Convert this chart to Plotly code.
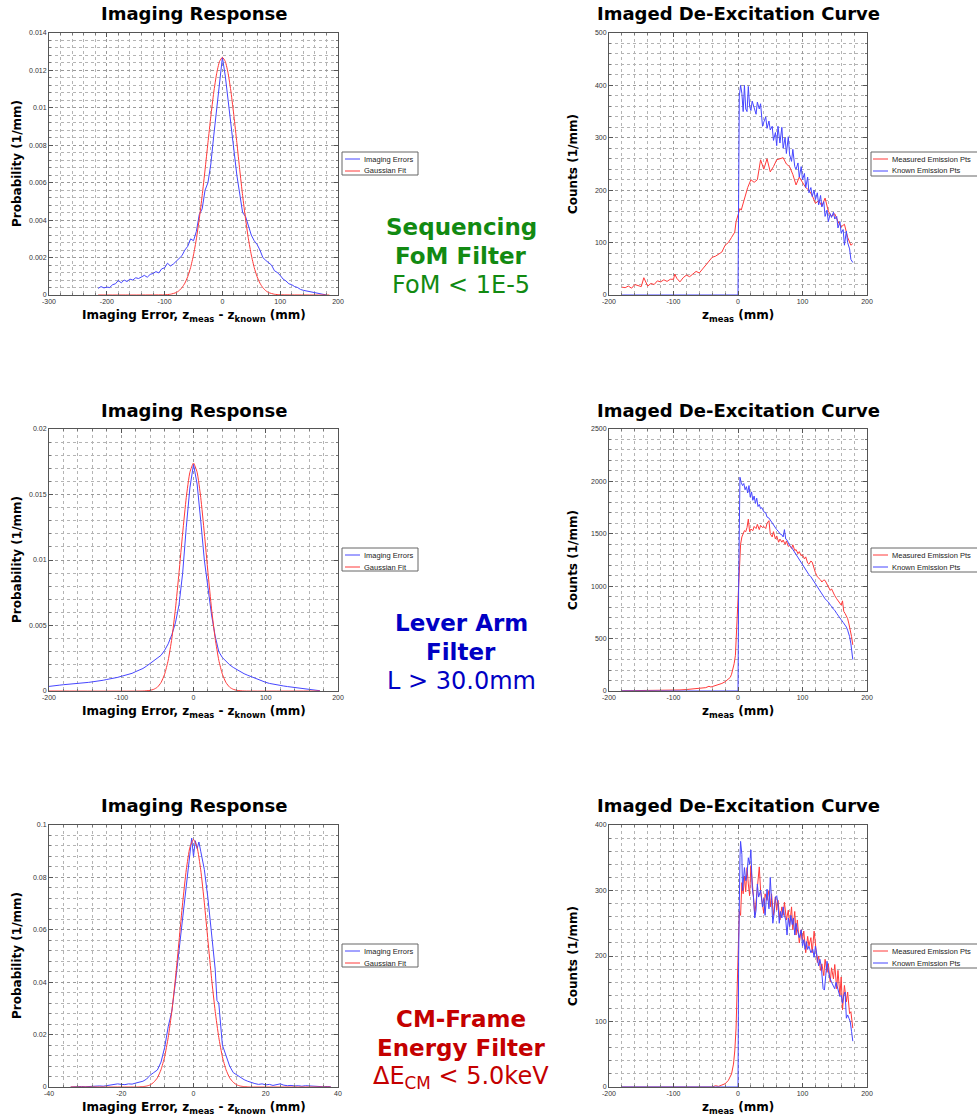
import plotly.graph_objects as go

W, H = 977, 1118

# ---------------- DATA ----------------
# Row 1 (Sequencing FoM filter) -- imaging response
L1_ERR_X = list(range(-215, 185, 5))
L1_ERR_Y = [0.00035, 0.00045, 0.00038, 0.00042, 0.00040, 0.00055, 0.00060, 0.00078, 0.00065, 0.00080,
            0.00072, 0.00085, 0.00080, 0.00092, 0.00088, 0.00098, 0.00105, 0.00095, 0.00110, 0.00115,
            0.00125, 0.00118, 0.00140, 0.00145, 0.00170, 0.00155, 0.00165, 0.00180, 0.00195, 0.00210,
            0.00240, 0.00260, 0.00300, 0.00290, 0.00340, 0.00430, 0.00460, 0.00560, 0.00600, 0.00700,
            0.00850, 0.01000, 0.01150, 0.01270, 0.01170, 0.01030, 0.00900, 0.00760, 0.00640, 0.00540,
            0.00440, 0.00420, 0.00370, 0.00320, 0.00290, 0.00270, 0.00240, 0.00200, 0.00185, 0.00170,
            0.00160, 0.00130, 0.00120, 0.00105, 0.00085, 0.00075, 0.00060, 0.00055, 0.00045, 0.00040,
            0.00030, 0.00025, 0.00022, 0.00015, 0.00012, 0.00010, 0.00006, 0.00004, 0.00002, 0.00000]
L1_FIT_X = [-215, -100, -90, -80, -75, -70, -65, -60, -55, -50, -45, -40, -35, -30, -25, -20, -15, -10, -5, 0,
            5, 10, 15, 20, 25, 30, 35, 40, 45, 50, 55, 60, 65, 70, 75, 80, 90, 100, 185]
L1_FIT_Y = [0.0, 0.00001, 0.00004, 0.00013, 0.00023, 0.00039, 0.00063, 0.00098, 0.00147, 0.00214,
            0.00300, 0.00407, 0.00531, 0.00669, 0.00814, 0.00955, 0.01082, 0.01183, 0.01248, 0.0127,
            0.01248, 0.01183, 0.01082, 0.00955, 0.00814, 0.00669, 0.00531, 0.00407, 0.00300, 0.00214,
            0.00147, 0.00098, 0.00063, 0.00039, 0.00023, 0.00013, 0.00004, 0.00001, 0.0]

# Row 2 (Lever arm filter) -- imaging response
L2_ERR_X = list(range(-200, 180, 5))
L2_ERR_Y = [0.00035, 0.00040, 0.00042, 0.00045, 0.00048, 0.00050, 0.00052, 0.00055, 0.00058, 0.00060,
            0.00062, 0.00066, 0.00070, 0.00073, 0.00078, 0.00082, 0.00088, 0.00092, 0.00098, 0.00104,
            0.00112, 0.00118, 0.00125, 0.00135, 0.00148, 0.00158, 0.00172, 0.00190, 0.00210, 0.00228,
            0.00245, 0.00272, 0.00310, 0.00360, 0.00430, 0.00520, 0.00660, 0.00900, 0.01250, 0.01550,
            0.01730, 0.01580, 0.01300, 0.01000, 0.00790, 0.00580, 0.00420, 0.00300, 0.00255, 0.00225,
            0.00200, 0.00180, 0.00162, 0.00150, 0.00132, 0.00120, 0.00108, 0.00096, 0.00086, 0.00076,
            0.00066, 0.00058, 0.00052, 0.00047, 0.00042, 0.00038, 0.00034, 0.00030, 0.00026, 0.00022,
            0.00019, 0.00015, 0.00012, 0.00008, 0.00005, 0.00002]
L2_FIT_X = [-200, -70, -60, -55, -50, -45, -40, -35, -30, -25, -20, -15, -10, -5, 0,
            5, 10, 15, 20, 25, 30, 35, 40, 45, 50, 55, 60, 70, 175]
L2_FIT_Y = [0.0, 0.0, 0.00005, 0.00013, 0.00029, 0.00064, 0.00128, 0.00235, 0.00400, 0.00627,
            0.00906, 0.01205, 0.01478, 0.01670, 0.0174, 0.01670, 0.01478, 0.01205, 0.00906, 0.00627,
            0.00400, 0.00235, 0.00128, 0.00064, 0.00029, 0.00013, 0.00005, 0.0, 0.0]

# Row 3 (CM-frame energy filter) -- imaging response
L3_ERR_X = [-34, -33, -32, -31, -30, -29, -28, -27, -26, -25, -24, -23, -22, -21, -20, -19, -18, -17, -16, -15,
            -14, -13, -12, -11, -10, -9, -8, -7, -6, -5, -4, -3, -2, -1, -0.5, 0, 0.5, 1, 1.5, 2,
            3, 4, 5, 6, 6.5, 7, 8, 9, 10, 11, 12, 13, 14, 15, 16, 17, 18, 19, 20, 21,
            22, 23, 24, 25, 26, 27, 28, 29, 30, 31, 32, 33, 34, 35, 36, 37, 38]
L3_ERR_Y = [0.0000, 0.0001, 0.0000, 0.0002, 0.0001, 0.0002, 0.0003, 0.0002, 0.0004, 0.0003,
            0.0005, 0.0006, 0.0008, 0.0012, 0.0010, 0.0009, 0.0012, 0.0011, 0.0015, 0.0018,
            0.0022, 0.0030, 0.0045, 0.0055, 0.0065, 0.0095, 0.0150, 0.0230, 0.0290, 0.0400,
            0.0520, 0.0640, 0.0760, 0.0870, 0.0950, 0.0880, 0.0940, 0.0910, 0.0935, 0.0900,
            0.0830, 0.0720, 0.0580, 0.0450, 0.0330, 0.0320, 0.0160, 0.0120, 0.0080, 0.0055,
            0.0045, 0.0035, 0.0028, 0.0022, 0.0016, 0.0013, 0.0010, 0.0012, 0.0008, 0.0010,
            0.0006, 0.0008, 0.0012, 0.0007, 0.0005, 0.0006, 0.0004, 0.0005, 0.0003, 0.0005,
            0.0004, 0.0003, 0.0002, 0.0003, 0.0001, 0.0002, 0.0001]
L3_FIT_X = [-34, -16, -15, -14, -13, -12, -11, -10, -9, -8, -7, -6, -5, -4, -3, -2, -1, 0,
            1, 2, 3, 4, 5, 6, 7, 8, 9, 10, 11, 12, 13, 14, 15, 16, 38]
L3_FIT_Y = [0.0, 0.0, 0.00005, 0.00015, 0.00036, 0.0008, 0.0018, 0.0035, 0.0066, 0.0115, 0.0189,
            0.0289, 0.0415, 0.0558, 0.0703, 0.0829, 0.0915, 0.0945,
            0.0915, 0.0829, 0.0703, 0.0558, 0.0415, 0.0289, 0.0189, 0.0115, 0.0066, 0.0035,
            0.0018, 0.0008, 0.00036, 0.00015, 0.00005, 0.0, 0.0]

# De-excitation curves: (z_meas, counts)
R1_MEASURED = [(-180, 15), (-175, 14), (-170, 17), (-165, 13), (-160, 20), (-155, 18), (-150, 16), (-146, 33),
               (-140, 17), (-135, 22), (-130, 20), (-125, 27), (-120, 25), (-115, 29), (-110, 26), (-105, 30),
               (-100, 30), (-98, 40), (-95, 32), (-90, 25), (-85, 33), (-80, 38), (-75, 35), (-70, 40),
               (-65, 45), (-60, 42), (-55, 50), (-50, 57), (-45, 65), (-40, 72), (-35, 74), (-30, 78),
               (-25, 82), (-20, 95), (-15, 100), (-10, 110), (-5, 120), (-3, 140), (0, 155), (3, 165),
               (5, 162), (10, 185), (15, 205), (20, 220), (25, 215), (30, 220), (35, 258), (40, 240),
               (45, 260), (50, 235), (55, 245), (60, 258), (65, 260), (70, 262), (75, 250), (80, 245),
               (85, 230), (90, 210), (95, 225), (100, 215), (105, 205), (110, 200), (115, 190), (120, 175),
               (125, 180), (130, 170), (135, 185), (140, 160), (145, 150), (150, 155), (155, 140), (160, 130),
               (165, 135), (170, 110), (175, 95), (178, 98)]
R1_KNOWN = [(-180, 0), (0, 0), (2, 380), (4, 400), (6, 385), (8, 350), (10, 400), (12, 355), (14, 350),
            (16, 398), (18, 360), (20, 352), (22, 370), (25, 358), (28, 345), (30, 368), (33, 355), (35, 365),
            (38, 322), (40, 330), (43, 340), (45, 318), (48, 332), (50, 315), (53, 322), (55, 295), (58, 310),
            (60, 285), (62, 322), (65, 290), (68, 320), (70, 280), (73, 300), (75, 270), (78, 302), (80, 268),
            (83, 255), (85, 278), (88, 245), (90, 240), (93, 252), (95, 225), (98, 245), (100, 220), (103, 232),
            (105, 205), (108, 225), (110, 195), (113, 205), (115, 188), (118, 200), (120, 182), (123, 195),
            (125, 172), (128, 190), (130, 168), (133, 178), (135, 150), (138, 162), (140, 140), (143, 155),
            (145, 148), (148, 158), (150, 145), (153, 150), (155, 128), (158, 140), (160, 118), (163, 125),
            (165, 95), (168, 122), (170, 100), (173, 88), (175, 68), (178, 62)]

R2_MEASURED = [(-180, 2), (-160, 3), (-140, 4), (-120, 5), (-100, 8), (-90, 10), (-80, 14), (-70, 18), (-60, 24),
               (-50, 32), (-45, 45), (-42, 38), (-40, 42), (-35, 50), (-30, 60), (-25, 72), (-20, 88), (-15, 110),
               (-12, 130), (-10, 160), (-8, 200), (-6, 260), (-4, 340), (-2, 600), (0, 900), (2, 1250), (4, 1400),
               (6, 1470), (8, 1500), (10, 1530), (12, 1520), (14, 1560), (16, 1640), (18, 1520), (20, 1545),
               (23, 1530), (25, 1570), (28, 1550), (30, 1590), (33, 1540), (35, 1580), (38, 1560), (40, 1570),
               (43, 1550), (45, 1600), (48, 1625), (50, 1500), (53, 1470), (55, 1520), (58, 1450), (60, 1480),
               (63, 1420), (65, 1450), (68, 1420), (70, 1440), (73, 1400), (75, 1430), (78, 1380), (80, 1390),
               (83, 1360), (85, 1395), (88, 1340), (90, 1350), (93, 1310), (95, 1330), (98, 1290), (100, 1300),
               (103, 1260), (105, 1280), (108, 1220), (110, 1210), (113, 1240), (115, 1230), (118, 1160),
               (120, 1130), (123, 1090), (125, 1080), (128, 1060), (130, 1040), (133, 1060), (135, 1055),
               (138, 1020), (140, 1000), (143, 960), (145, 975), (148, 930), (150, 910), (153, 880), (155, 860),
               (158, 840), (160, 820), (162, 860), (164, 760), (166, 740), (168, 720), (170, 690), (172, 640),
               (174, 590), (176, 520), (178, 440)]
R2_KNOWN = [(-180, 0), (0, 0), (1, 1000), (2, 1980), (3, 2040), (5, 1990), (7, 1960), (9, 1980), (11, 1920),
            (13, 1950), (15, 1890), (17, 1960), (19, 1850), (21, 1900), (23, 1820), (25, 1860), (27, 1790),
            (29, 1840), (31, 1760), (33, 1780), (35, 1740), (37, 1750), (40, 1710), (43, 1700), (45, 1660),
            (48, 1650), (50, 1630), (53, 1600), (55, 1580), (58, 1560), (60, 1540), (63, 1520), (65, 1500),
            (68, 1490), (70, 1470), (72, 1540), (74, 1450), (76, 1440), (78, 1410), (80, 1390), (83, 1370),
            (85, 1350), (88, 1320), (90, 1300), (93, 1270), (95, 1260), (98, 1230), (100, 1210), (103, 1180),
            (105, 1160), (108, 1130), (110, 1110), (113, 1090), (115, 1070), (118, 1040), (120, 1020),
            (123, 1000), (125, 980), (128, 950), (130, 930), (133, 900), (135, 880), (138, 860), (140, 850),
            (143, 820), (145, 810), (148, 780), (150, 770), (153, 740), (155, 720), (158, 700), (160, 680),
            (163, 655), (165, 640), (168, 610), (170, 580), (173, 520), (175, 450), (178, 300)]

R3_MEASURED = [(-180, 0), (-40, 0), (-35, 2), (-30, 1), (-25, 3), (-20, 5), (-15, 10), (-10, 20), (-7, 35),
               (-5, 55), (-3, 90), (-1, 150), (0, 200), (1, 240), (2, 268), (4, 262), (6, 312), (8, 295),
               (10, 322), (12, 298), (14, 335), (16, 310), (18, 292), (20, 338), (22, 305), (24, 290), (26, 262),
               (28, 285), (30, 300), (33, 336), (35, 300), (38, 275), (40, 265), (42, 295), (45, 285), (48, 300),
               (50, 275), (52, 295), (55, 262), (58, 290), (60, 270), (62, 285), (65, 255), (68, 275), (70, 262),
               (72, 282), (75, 255), (78, 270), (80, 245), (83, 275), (85, 240), (88, 268), (90, 232), (92, 255),
               (95, 220), (98, 240), (100, 225), (102, 238), (105, 205), (108, 230), (110, 215), (113, 228),
               (115, 205), (118, 238), (120, 215), (123, 190), (125, 200), (128, 178), (130, 188), (133, 170),
               (135, 195), (138, 175), (140, 188), (143, 160), (145, 182), (148, 165), (150, 187), (153, 150),
               (155, 178), (158, 140), (160, 168), (162, 118), (165, 155), (168, 130), (170, 145), (173, 112),
               (175, 115), (178, 90)]
R3_KNOWN = [(-180, 0), (0, 0), (1, 200), (2, 300), (3, 350), (4, 375), (5, 368), (6, 355), (7, 300), (8, 310),
            (10, 335), (12, 315), (14, 325), (16, 350), (18, 340), (20, 362), (22, 305), (24, 290), (26, 258),
            (28, 270), (30, 310), (32, 290), (35, 300), (38, 275), (40, 288), (42, 262), (45, 302), (48, 272),
            (50, 320), (52, 285), (54, 250), (56, 265), (58, 290), (60, 292), (62, 280), (64, 250), (66, 268),
            (68, 258), (70, 275), (72, 262), (74, 255), (76, 232), (78, 258), (80, 245), (82, 262), (84, 248),
            (86, 258), (88, 232), (90, 250), (92, 240), (95, 228), (98, 240), (100, 215), (102, 225), (104, 210),
            (106, 222), (108, 210), (110, 215), (113, 205), (116, 210), (118, 198), (120, 215), (122, 202),
            (125, 185), (127, 195), (129, 185), (132, 150), (134, 148), (136, 170), (138, 192), (140, 178),
            (142, 168), (145, 160), (148, 155), (150, 150), (152, 160), (155, 150), (158, 138), (160, 140),
            (162, 128), (164, 140), (166, 145), (168, 105), (170, 110), (172, 105), (174, 100), (176, 85),
            (178, 70)]

# Tick labels
L1_XTICKS = [-300, -200, -100, 0, 100, 200]
L1_YTICKS = [0, 0.002, 0.004, 0.006, 0.008, 0.01, 0.012, 0.014]
L1_YTEXT = ["0", "0.002", "0.004", "0.006", "0.008", "0.01", "0.012", "0.014"]
L2_XTICKS = [-200, -100, 0, 100, 200]
L2_YTICKS = [0, 0.005, 0.01, 0.015, 0.02]
L2_YTEXT = ["0", "0.005", "0.01", "0.015", "0.02"]
L3_XTICKS = [-40, -20, 0, 20, 40]
L3_YTICKS = [0, 0.02, 0.04, 0.06, 0.08, 0.1]
L3_YTEXT = ["0", "0.02", "0.04", "0.06", "0.08", "0.1"]
R_XTICKS = [-200, -100, 0, 100, 200]
R1_YTICKS = [0, 100, 200, 300, 400, 500]
R2_YTICKS = [0, 500, 1000, 1500, 2000, 2500]
R3_YTICKS = [0, 100, 200, 300, 400]

ROW_LABELS = [
    ("<b>Sequencing</b>", "<b>FoM Filter</b>", "FoM &lt; 1E-5", "#128a12"),
    ("<b>Lever Arm</b>", "<b>Filter</b>", "L &gt; 30.0mm", "#0000c4"),
    ("<b>CM-Frame</b>", "<b>Energy Filter</b>", "ΔE<sub>CM</sub> &lt; 5.0keV", "#c40000"),
]

# ---------------- LAYOUT HELPERS ----------------
BLUE = "#4646ff"
RED = "#ff3a3a"
ROW_TOP = [33, 429, 825]
PLOT_H = 262
LEFT_X = (49, 338)
RIGHT_X = (609, 867)
TITLE_FONT = "DejaVu Sans"
TICK_FONT = "Liberation Sans"


def px(x):
    return x / W


def py(y):
    return 1 - y / H


def hyph(v):
    return f"{v:g}"


fig = go.Figure()
annotations = []
shapes = []


def axis_cfg(domain, ticks, text, minor_dtick, rng, anchor):
    return dict(
        domain=domain, range=rng, anchor=anchor,
        tickmode="array", tickvals=ticks, ticktext=text,
        showline=True, linecolor="#555", linewidth=1, mirror="ticks",
        ticks="inside", ticklen=4, tickcolor="#555", tickwidth=1,
        showgrid=True, gridcolor="#9a9a9a", griddash="dot", gridwidth=1,
        zeroline=False,
        tickfont=dict(family=TICK_FONT, size=7, color="#333"),
        minor=dict(tickmode="linear", tick0=rng[0], dtick=minor_dtick, showgrid=True,
                   gridcolor="#b4b4b4", griddash="dot", gridwidth=1,
                   ticks="inside", ticklen=2, tickcolor="#777"),
    )


panels = [
    (0, "L", L1_XTICKS, [hyph(v) for v in L1_XTICKS], 20, [-300, 200], L1_YTICKS, L1_YTEXT, 0.0004, [0, 0.014]),
    (0, "R", R_XTICKS, [hyph(v) for v in R_XTICKS], 20, [-200, 200], R1_YTICKS, [str(v) for v in R1_YTICKS], 20, [0, 500]),
    (1, "L", L2_XTICKS, [hyph(v) for v in L2_XTICKS], 20, [-200, 200], L2_YTICKS, L2_YTEXT, 0.001, [0, 0.02]),
    (1, "R", R_XTICKS, [hyph(v) for v in R_XTICKS], 20, [-200, 200], R2_YTICKS, [str(v) for v in R2_YTICKS], 100, [0, 2500]),
    (2, "L", L3_XTICKS, [hyph(v) for v in L3_XTICKS], 4, [-40, 40], L3_YTICKS, L3_YTEXT, 0.004, [0, 0.1]),
    (2, "R", R_XTICKS, [hyph(v) for v in R_XTICKS], 20, [-200, 200], R3_YTICKS, [str(v) for v in R3_YTICKS], 20, [0, 400]),
]

left_series = [
    (L1_ERR_X, L1_ERR_Y, L1_FIT_X, L1_FIT_Y),
    (L2_ERR_X, L2_ERR_Y, L2_FIT_X, L2_FIT_Y),
    (L3_ERR_X, L3_ERR_Y, L3_FIT_X, L3_FIT_Y),
]
right_series = [
    (R1_MEASURED, R1_KNOWN),
    (R2_MEASURED, R2_KNOWN),
    (R3_MEASURED, R3_KNOWN),
]

layout_axes = {}
for i, (row, side, xt, xtt, xmin, xr, yt, ytt, ymin, yr) in enumerate(panels):
    n = i + 1
    xs = LEFT_X if side == "L" else RIGHT_X
    top = ROW_TOP[row]
    xdom = [px(xs[0]), px(xs[1])]
    ydom = [py(top + PLOT_H), py(top)]
    xname = "xaxis" if n == 1 else f"xaxis{n}"
    yname = "yaxis" if n == 1 else f"yaxis{n}"
    xref = "x" if n == 1 else f"x{n}"
    yref = "y" if n == 1 else f"y{n}"
    layout_axes[xname] = axis_cfg(xdom, xt, xtt, xmin, xr, yref)
    layout_axes[yname] = axis_cfg(ydom, yt, ytt, ymin, yr, xref)

    if side == "L":
        ex, ey, fx, fy = left_series[row]
        fig.add_trace(go.Scatter(x=ex, y=ey, mode="lines", name="Imaging Errors",
                                 line=dict(color=BLUE, width=1), xaxis=xref, yaxis=yref, showlegend=False))
        fig.add_trace(go.Scatter(x=fx, y=fy, mode="lines", name="Gaussian Fit", line_shape="spline",
                                 line=dict(color=RED, width=1, smoothing=0.5), xaxis=xref, yaxis=yref,
                                 showlegend=False))
    else:
        meas, known = right_series[row]
        fig.add_trace(go.Scatter(x=[p[0] for p in meas], y=[p[1] for p in meas], mode="lines",
                                 name="Measured Emission Pts", line=dict(color=RED, width=1),
                                 xaxis=xref, yaxis=yref, showlegend=False))
        fig.add_trace(go.Scatter(x=[p[0] for p in known], y=[p[1] for p in known], mode="lines",
                                 name="Known Emission Pts", line=dict(color=BLUE, width=1),
                                 xaxis=xref, yaxis=yref, showlegend=False))

    cx = (xs[0] + xs[1]) / 2
    title = "<b>Imaging Response</b>" if side == "L" else "<b>Imaged De-Excitation Curve</b>"
    annotations.append(dict(text=title, x=px(cx), y=py(top - 19), xref="paper", yref="paper",
                            xanchor="center", yanchor="middle", showarrow=False,
                            font=dict(family=TITLE_FONT, size=18, color="#000")))
    xtitle = ("<b>Imaging Error, z<sub>meas</sub> - z<sub>known</sub> (mm)</b>" if side == "L"
              else "<b>z<sub>meas</sub> (mm)</b>")
    annotations.append(dict(text=xtitle, x=px(cx), y=py(top + PLOT_H + 11), xref="paper", yref="paper",
                            xanchor="center", yanchor="top", showarrow=False,
                            font=dict(family=TITLE_FONT, size=12, color="#000")))
    ytitle = "<b>Probability (1/mm)</b>" if side == "L" else "<b>Counts (1/mm)</b>"
    ytx = 17 if side == "L" else 573
    annotations.append(dict(text=ytitle, x=px(ytx), y=py(top + PLOT_H / 2), xref="paper", yref="paper",
                            xanchor="center", yanchor="middle", showarrow=False, textangle=-90,
                            font=dict(family=TITLE_FONT, size=12, color="#000")))

    # legend box (drawn)
    off = top - 33
    if side == "L":
        bx0, bx1, by0, by1 = 342, 418, 152 + off, 175 + off
        lx0, lx1, tx = 345, 360, 362
        entries = [("Imaging Errors", BLUE), ("Gaussian Fit", RED)]
    else:
        bx0, bx1, by0, by1 = 871, 1000, 152 + off, 176 + off
        lx0, lx1, tx = 873, 888, 890
        entries = [("Measured Emission Pts", RED), ("Known Emission Pts", BLUE)]
    shapes.append(dict(type="rect", xref="paper", yref="paper", x0=px(bx0), x1=px(bx1),
                       y0=py(by1), y1=py(by0), line=dict(color="#666", width=1), fillcolor="white",
                       layer="above"))
    for k, (label, col) in enumerate(entries):
        ry = by0 + 7 + 12 * k
        shapes.append(dict(type="line", xref="paper", yref="paper", x0=px(lx0), x1=px(lx1),
                           y0=py(ry), y1=py(ry), line=dict(color=col, width=1), layer="above"))
        annotations.append(dict(text=label, x=px(tx), y=py(ry), xref="paper", yref="paper",
                                xanchor="left", yanchor="middle", showarrow=False,
                                font=dict(family=TICK_FONT, size=7.5, color="#222")))

for row, (l1, l2, l3, col) in enumerate(ROW_LABELS):
    off = ROW_TOP[row] - 33
    for txt, yy, sz in ((l1, 227, 23), (l2, 256, 23), (l3, 285, 24)):
        annotations.append(dict(text=txt, x=px(461), y=py(yy + off), xref="paper", yref="paper",
                                xanchor="center", yanchor="middle", showarrow=False,
                                font=dict(family=TITLE_FONT, size=sz, color=col)))

fig.update_layout(
    width=W, height=H,
    margin=dict(l=0, r=0, t=0, b=0, autoexpand=False),
    paper_bgcolor="white", plot_bgcolor="white",
    showlegend=False,
    annotations=annotations, shapes=shapes,
    **layout_axes,
)

fig.write_html("out.html")
